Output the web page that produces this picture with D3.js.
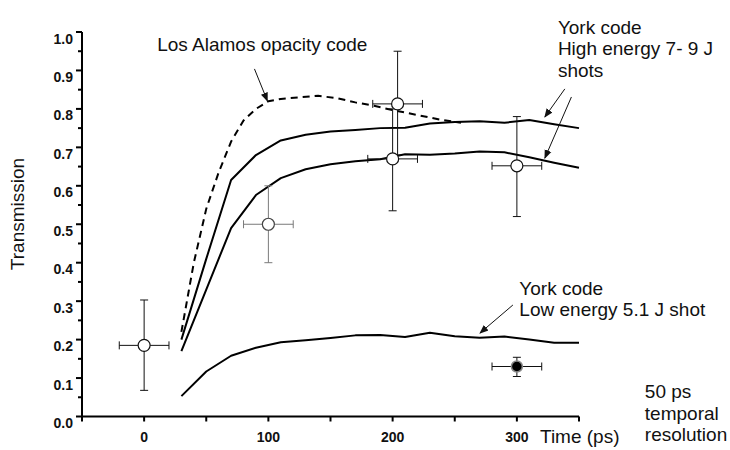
<!DOCTYPE html>
<html>
<head>
<meta charset="utf-8">
<script src="https://cdn.jsdelivr.net/npm/d3@7"></script>
<style>
  html, body { margin: 0; padding: 0; background: #fff; }
  svg { display: block; font-family: "Liberation Sans", Arial, sans-serif; }
  .tick-label { font-size: 14px; font-weight: bold; fill: #111; }
  .note { font-size: 19px; fill: #111; }
</style>
</head>
<body>
<svg id="chart" width="730" height="450"></svg>
<script>
// ── Data ──────────────────────────────────────────────────────────────────
const yorkTimes = [30, 50, 70, 90, 110, 130, 150, 170, 190, 210, 230, 250, 270, 290, 310, 330, 350];
const yorkHighUpper = [0.20, 0.41, 0.615, 0.68, 0.718, 0.733, 0.741, 0.745, 0.75, 0.751, 0.762, 0.766, 0.768, 0.764, 0.771, 0.76, 0.75];
const yorkHighLower = [0.17, 0.33, 0.49, 0.576, 0.62, 0.643, 0.656, 0.664, 0.669, 0.682, 0.681, 0.684, 0.689, 0.687, 0.674, 0.66, 0.647];
const yorkLow = [0.053, 0.117, 0.158, 0.179, 0.193, 0.198, 0.204, 0.211, 0.212, 0.207, 0.218, 0.209, 0.205, 0.208, 0.200, 0.192, 0.192];

const losAlamosTimes = [30, 40, 50, 60, 70, 80, 90, 100, 110, 125, 140, 155, 170, 185, 200, 220, 240, 255];
const losAlamos = [0.22, 0.40, 0.54, 0.635, 0.715, 0.77, 0.80, 0.82, 0.826, 0.830, 0.834, 0.828, 0.817, 0.808, 0.797, 0.784, 0.771, 0.764];

// measured shots (open circles), ±20 ps timing error
const shotTime = [0, 100, 204, 200, 300];
const shotValue = [0.185, 0.50, 0.813, 0.67, 0.652];
const shotLow = [0.068, 0.40, 0.68, 0.535, 0.52];
const shotHigh = [0.303, 0.60, 0.95, 0.80, 0.78];
const shotGrey = [false, true, false, false, false];
const timeErr = 20;

// low energy shot (filled circle)
const lowShotTime = 300;
const lowShotValue = 0.13;
const lowShotRange = [0.104, 0.154];

const xMajor = [0, 100, 200, 300];
const xMinor = [-50, 50, 150, 250, 350];
const yMajor = [0, 0.1, 0.2, 0.3, 0.4, 0.5, 0.6, 0.7, 0.8, 0.9, 1.0];
const yMinor = [0.05, 0.15, 0.25, 0.35, 0.45, 0.55, 0.65, 0.75, 0.85, 0.95];

// annotations in data units: [t, T] text anchor, arrows [from, to]
const notes = [
  { lines: ['Los Alamos opacity code'], at: [10.5, 0.951] },
  { lines: ['York code', 'High energy 7- 9 J', 'shots'], at: [333, 0.996] },
  { lines: ['York code', 'Low energy 5.1 J shot'], at: [302, 0.317] },
  { lines: ['50 ps', 'temporal', 'resolution'], at: [403, 0.048] },
];
const arrows = [
  [[88.8, 0.904], [99.2, 0.821]],
  [[338.6, 0.852], [322.5, 0.779]],
  [[343.9, 0.831], [322.5, 0.672]],
  [[296.8, 0.290], [270.3, 0.217]],
];

// ── Scales ────────────────────────────────────────────────────────────────
const svg = d3.select('#chart');
const x = d3.scaleLinear().domain([-50, 350]).range([82, 579]);
const y = d3.scaleLinear().domain([0, 1]).range([416.5, 32]);

svg.append('defs').append('marker')
  .attr('id', 'head')
  .attr('viewBox', '0 0 10 10')
  .attr('refX', 9).attr('refY', 5)
  .attr('markerWidth', 9).attr('markerHeight', 9)
  .attr('markerUnits', 'userSpaceOnUse')
  .attr('orient', 'auto')
  .append('path').attr('d', 'M0,1 L10,5 L0,9 Z').attr('fill', '#111');

// ── Axes ──────────────────────────────────────────────────────────────────
const axis = svg.append('g').attr('stroke', '#000').attr('stroke-width', 2);
axis.append('line').attr('x1', x(-50)).attr('x2', x(-50)).attr('y1', y(1)).attr('y2', y(0));
axis.append('line').attr('x1', x(-50) - 1).attr('x2', x(350)).attr('y1', y(0)).attr('y2', y(0));

axis.selectAll('.ymaj').data(yMajor).join('line')
  .attr('x1', x(-50) - 6).attr('x2', x(-50))
  .attr('y1', d => y(d)).attr('y2', d => y(d));
axis.selectAll('.ymin').data(yMinor).join('line')
  .attr('x1', x(-50) - 4).attr('x2', x(-50))
  .attr('y1', d => y(d)).attr('y2', d => y(d));
axis.selectAll('.xtick').data(xMajor.concat(xMinor)).join('line')
  .attr('x1', d => x(d)).attr('x2', d => x(d))
  .attr('y1', y(0)).attr('y2', y(0) + 5);

svg.selectAll('.ylab').data(yMajor).join('text')
  .attr('class', 'tick-label')
  .attr('x', 73).attr('y', d => y(d) + 11.5)
  .attr('text-anchor', 'end')
  .text(d => d3.format('.1f')(d));

svg.selectAll('.xlab').data(xMajor).join('text')
  .attr('class', 'tick-label')
  .attr('x', d => x(d)).attr('y', 441.5)
  .attr('text-anchor', 'middle')
  .text(d => d);

svg.append('text').attr('class', 'note')
  .attr('x', 540).attr('y', 443).text('Time (ps)');

svg.append('text').attr('class', 'note')
  .attr('transform', 'translate(24,214) rotate(-90)')
  .attr('text-anchor', 'middle')
  .text('Transmission');

// ── Model curves ──────────────────────────────────────────────────────────
const line = d3.line().x(d => x(d[0])).y(d => y(d[1]));
const curves = svg.append('g').attr('fill', 'none').attr('stroke', '#000')
  .attr('stroke-width', 2).attr('stroke-linejoin', 'round');

curves.append('path').attr('d', line(d3.zip(losAlamosTimes, losAlamos)))
  .attr('stroke-dasharray', '7,5');
[yorkHighUpper, yorkHighLower, yorkLow].forEach(vals => {
  curves.append('path').attr('d', line(d3.zip(yorkTimes, vals)));
});

// ── Error bars + points ───────────────────────────────────────────────────
const bars = svg.append('g').attr('stroke-width', 1);
shotTime.forEach((t, i) => {
  const c = shotGrey[i] ? '#7a7a7a' : '#111';
  const g = bars.append('g').attr('stroke', c);
  g.append('line').attr('x1', x(t)).attr('x2', x(t)).attr('y1', y(shotLow[i])).attr('y2', y(shotHigh[i]));
  g.append('line').attr('x1', x(t) - 4).attr('x2', x(t) + 4).attr('y1', y(shotLow[i])).attr('y2', y(shotLow[i]));
  g.append('line').attr('x1', x(t) - 4).attr('x2', x(t) + 4).attr('y1', y(shotHigh[i])).attr('y2', y(shotHigh[i]));
  g.append('line').attr('x1', x(t - timeErr)).attr('x2', x(t + timeErr)).attr('y1', y(shotValue[i])).attr('y2', y(shotValue[i]));
  g.append('line').attr('x1', x(t - timeErr)).attr('x2', x(t - timeErr)).attr('y1', y(shotValue[i]) - 4).attr('y2', y(shotValue[i]) + 4);
  g.append('line').attr('x1', x(t + timeErr)).attr('x2', x(t + timeErr)).attr('y1', y(shotValue[i]) - 4).attr('y2', y(shotValue[i]) + 4);
});

const lg = bars.append('g').attr('stroke', '#111');
lg.append('line').attr('x1', x(lowShotTime)).attr('x2', x(lowShotTime)).attr('y1', y(lowShotRange[0])).attr('y2', y(lowShotRange[1]));
lowShotRange.forEach(v => {
  lg.append('line').attr('x1', x(lowShotTime) - 4).attr('x2', x(lowShotTime) + 4).attr('y1', y(v)).attr('y2', y(v));
});
lg.append('line').attr('x1', x(lowShotTime - timeErr)).attr('x2', x(lowShotTime + timeErr)).attr('y1', y(lowShotValue)).attr('y2', y(lowShotValue));
[-timeErr, timeErr].forEach(dt => {
  lg.append('line').attr('x1', x(lowShotTime + dt)).attr('x2', x(lowShotTime + dt))
    .attr('y1', y(lowShotValue) - 4).attr('y2', y(lowShotValue) + 4);
});

svg.selectAll('.shot').data(d3.range(shotTime.length)).join('circle')
  .attr('cx', i => x(shotTime[i])).attr('cy', i => y(shotValue[i]))
  .attr('r', 6).attr('fill', '#fff')
  .attr('stroke', i => shotGrey[i] ? '#444' : '#111').attr('stroke-width', 1.2);

svg.append('circle')
  .attr('cx', x(lowShotTime)).attr('cy', y(lowShotValue))
  .attr('r', 5.5).attr('fill', '#000').attr('stroke', '#888').attr('stroke-width', 1.5);

// ── Annotations ───────────────────────────────────────────────────────────
svg.selectAll('.arrow').data(arrows).join('line')
  .attr('x1', d => x(d[0][0])).attr('y1', d => y(d[0][1]))
  .attr('x2', d => x(d[1][0])).attr('y2', d => y(d[1][1]))
  .attr('stroke', '#111').attr('stroke-width', 1)
  .attr('marker-end', 'url(#head)');

notes.forEach(n => {
  const t = svg.append('text').attr('class', 'note');
  n.lines.forEach((s, k) => {
    t.append('tspan').attr('x', x(n.at[0])).attr('y', y(n.at[1]) + k * 21.5).text(s);
  });
});
</script>
</body>
</html>
